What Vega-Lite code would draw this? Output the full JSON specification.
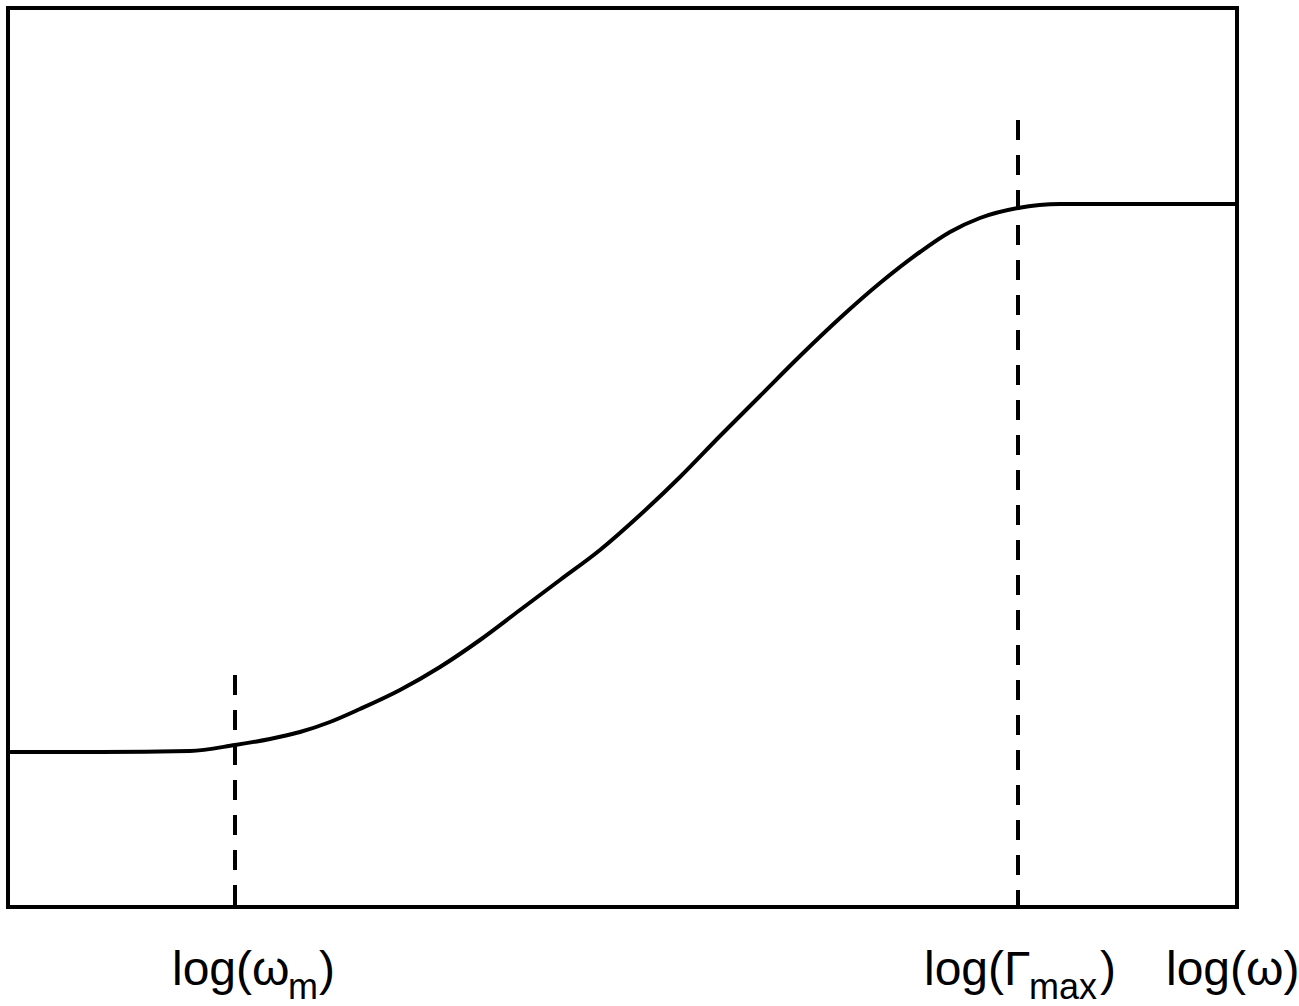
{
  "$schema": "https://vega.github.io/schema/vega-lite/v6.json",
  "width": 1229,
  "height": 899,
  "autosize": {"type": "none"},
  "padding": {"left": 8, "top": 8, "right": 62, "bottom": 99},
  "background": "white",
  "config": {"view": {"stroke": "black", "strokeWidth": 4}},
  "datasets": {
    "curve": [
      {"x": 0, "y": 155}, {"x": 92, "y": 155}, {"x": 182, "y": 156}, {"x": 227, "y": 162},
      {"x": 262, "y": 168}, {"x": 292, "y": 175}, {"x": 322, "y": 185}, {"x": 352, "y": 198},
      {"x": 392, "y": 217}, {"x": 432, "y": 240}, {"x": 472, "y": 267}, {"x": 512, "y": 297},
      {"x": 552, "y": 327}, {"x": 592, "y": 357}, {"x": 632, "y": 392}, {"x": 672, "y": 430},
      {"x": 712, "y": 471}, {"x": 752, "y": 511}, {"x": 792, "y": 551}, {"x": 832, "y": 589},
      {"x": 872, "y": 624}, {"x": 912, "y": 655}, {"x": 942, "y": 675}, {"x": 972, "y": 689},
      {"x": 1010, "y": 699}, {"x": 1052, "y": 703}, {"x": 1229, "y": 703}
    ],
    "marks": [
      {"x": 227, "y": 232, "y2": 0},
      {"x": 1010, "y": 787, "y2": 0}
    ],
    "labels": [
      {"text": "log(ω", "x": 164, "y": -78},
      {"text": ")", "x": 311, "y": -78},
      {"text": "log(Γ", "x": 916, "y": -78},
      {"text": ")", "x": 1092, "y": -78},
      {"text": "log(ω)", "x": 1158, "y": -78}
    ],
    "subs": [
      {"text": "m", "x": 280, "y": -92},
      {"text": "max", "x": 1021, "y": -92}
    ]
  },
  "encoding": {
    "x": {"field": "x", "type": "quantitative", "scale": {"domain": [0, 1229], "nice": false, "zero": false}, "axis": null},
    "y": {"field": "y", "type": "quantitative", "scale": {"domain": [0, 899], "nice": false, "zero": false}, "axis": null}
  },
  "layer": [
    {
      "data": {"name": "curve"},
      "mark": {"type": "line", "color": "black", "strokeWidth": 4, "interpolate": "monotone"},
      "encoding": {}
    },
    {
      "data": {"name": "marks"},
      "mark": {"type": "rule", "color": "black", "strokeWidth": 4, "strokeDash": [20, 15]},
      "encoding": {
        "y2": {"field": "y2"}
      }
    },
    {
      "data": {"name": "labels"},
      "mark": {"type": "text", "align": "left", "baseline": "alphabetic", "font": "Liberation Sans", "fontSize": 48, "color": "black", "clip": false},
      "encoding": {
        "text": {"field": "text"}
      }
    },
    {
      "data": {"name": "subs"},
      "mark": {"type": "text", "align": "left", "baseline": "alphabetic", "font": "Liberation Sans", "fontSize": 36, "color": "black", "clip": false},
      "encoding": {
        "text": {"field": "text"}
      }
    }
  ]
}
